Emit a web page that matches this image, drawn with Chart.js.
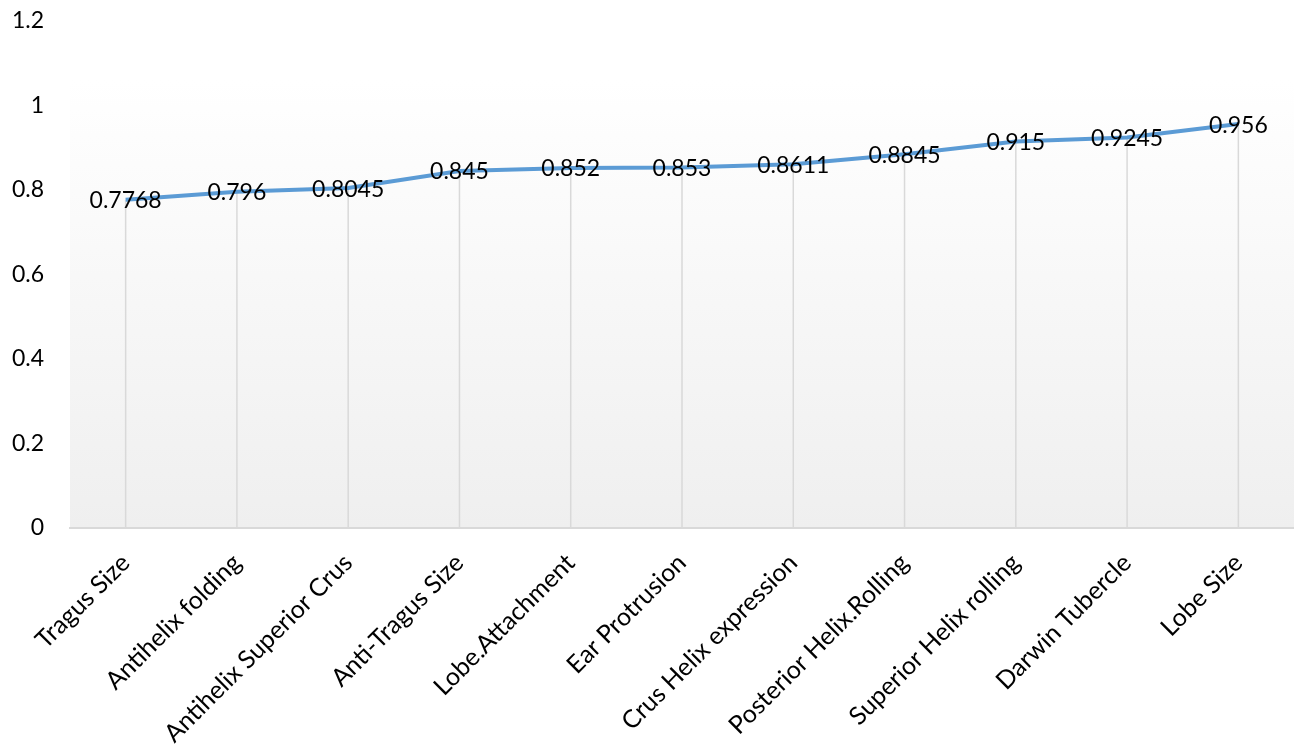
<!DOCTYPE html>
<html>
<head>
<meta charset="utf-8">
<script src="https://cdn.jsdelivr.net/npm/chart.js@4.4.1/dist/chart.umd.min.js"></script>
<style>
  html, body { margin: 0; padding: 0; background: #fff; }
  #wrap { width: 1294px; height: 748px; }
</style>
</head>
<body>
<div id="wrap"><canvas id="earChart"></canvas></div>
<script>
// values
var traits = ['Tragus Size', 'Antihelix folding', 'Antihelix Superior Crus', 'Anti-Tragus Size',
    'Lobe.Attachment', 'Ear Protrusion', 'Crus Helix expression', 'Posterior Helix.Rolling',
    'Superior Helix rolling', 'Darwin Tubercle', 'Lobe Size'];
var scores = [0.7768, 0.796, 0.8045, 0.845, 0.852, 0.853, 0.8611, 0.8845, 0.915, 0.9245, 0.956];
var yTicks = ['0', '0.2', '0.4', '0.6', '0.8', '1', '1.2'];

var FONT = 'Lato';

// plot area gradient, white on top to light gray at the axis
var plotBg = {
    id: 'plotBg',
    beforeDraw: function (chart) {
        var ctx = chart.ctx, a = chart.chartArea;
        var top = 80;
        var g = ctx.createLinearGradient(0, top, 0, a.bottom);
        g.addColorStop(0, '#ffffff');
        g.addColorStop(1, '#efefef');
        ctx.save();
        ctx.fillStyle = g;
        ctx.fillRect(a.left, top, a.right - a.left, a.bottom - top);
        ctx.restore();
    }
};

// vertical drop lines from each point to the axis
var dropLines = {
    id: 'dropLines',
    beforeDatasetsDraw: function (chart) {
        var ctx = chart.ctx;
        var meta = chart.getDatasetMeta(0);
        var bottom = chart.scales.y.getPixelForValue(0);
        ctx.save();
        ctx.strokeStyle = '#d9d9d9';
        ctx.lineWidth = 1.5;
        meta.data.forEach(function (pt) {
            ctx.beginPath();
            ctx.moveTo(pt.x, pt.y);
            ctx.lineTo(pt.x, bottom);
            ctx.stroke();
        });
        ctx.restore();
    }
};

// value labels centred on the points
var valueLabels = {
    id: 'valueLabels',
    afterDatasetsDraw: function (chart) {
        var ctx = chart.ctx;
        var meta = chart.getDatasetMeta(0);
        ctx.save();
        ctx.font = '23px ' + FONT;
        ctx.fillStyle = '#000';
        ctx.textAlign = 'center';
        ctx.textBaseline = 'middle';
        meta.data.forEach(function (pt, i) {
            ctx.fillText(String(scores[i]), pt.x, pt.y + 1);
        });
        ctx.restore();
    }
};

var ctx = document.getElementById('earChart').getContext('2d');
var earChart = new Chart(ctx, {
    type: 'line',
    data: {
        labels: traits,
        datasets: [{
            data: scores,
            borderColor: '#5b9bd5',
            borderWidth: 4,
            pointRadius: 0,
            tension: 0,
            fill: false
        }]
    },
    options: {
        responsive: true,
        maintainAspectRatio: false,
        animation: false,
        layout: { padding: { top: 21, left: 0, right: 0, bottom: 0 } },
        plugins: {
            legend: { display: false },
            tooltip: { enabled: false }
        },
        scales: {
            x: {
                offset: true,
                grid: { display: false, drawTicks: false },
                border: { display: true, color: '#d9d9d9', width: 2 },
                ticks: {
                    autoSkip: false,
                    minRotation: 45,
                    maxRotation: 45,
                    padding: 20,
                    color: '#000',
                    font: { family: FONT, size: 25 }
                },
                afterFit: function (scale) { scale.height = 220; }
            },
            y: {
                min: 0,
                max: 1.2,
                grid: { display: false, drawTicks: false },
                border: { display: false },
                ticks: {
                    stepSize: 0.2,
                    padding: 26,
                    color: '#000',
                    font: { family: FONT, size: 23 },
                    callback: function (v, i) { return yTicks[i]; }
                },
                afterFit: function (scale) {
                    scale.width = 70;
                    scale.paddingTop = 0;
                    scale.paddingBottom = 0;
                }
            }
        }
    },
    plugins: [plotBg, dropLines, valueLabels]
});
</script>
</body>
</html>
